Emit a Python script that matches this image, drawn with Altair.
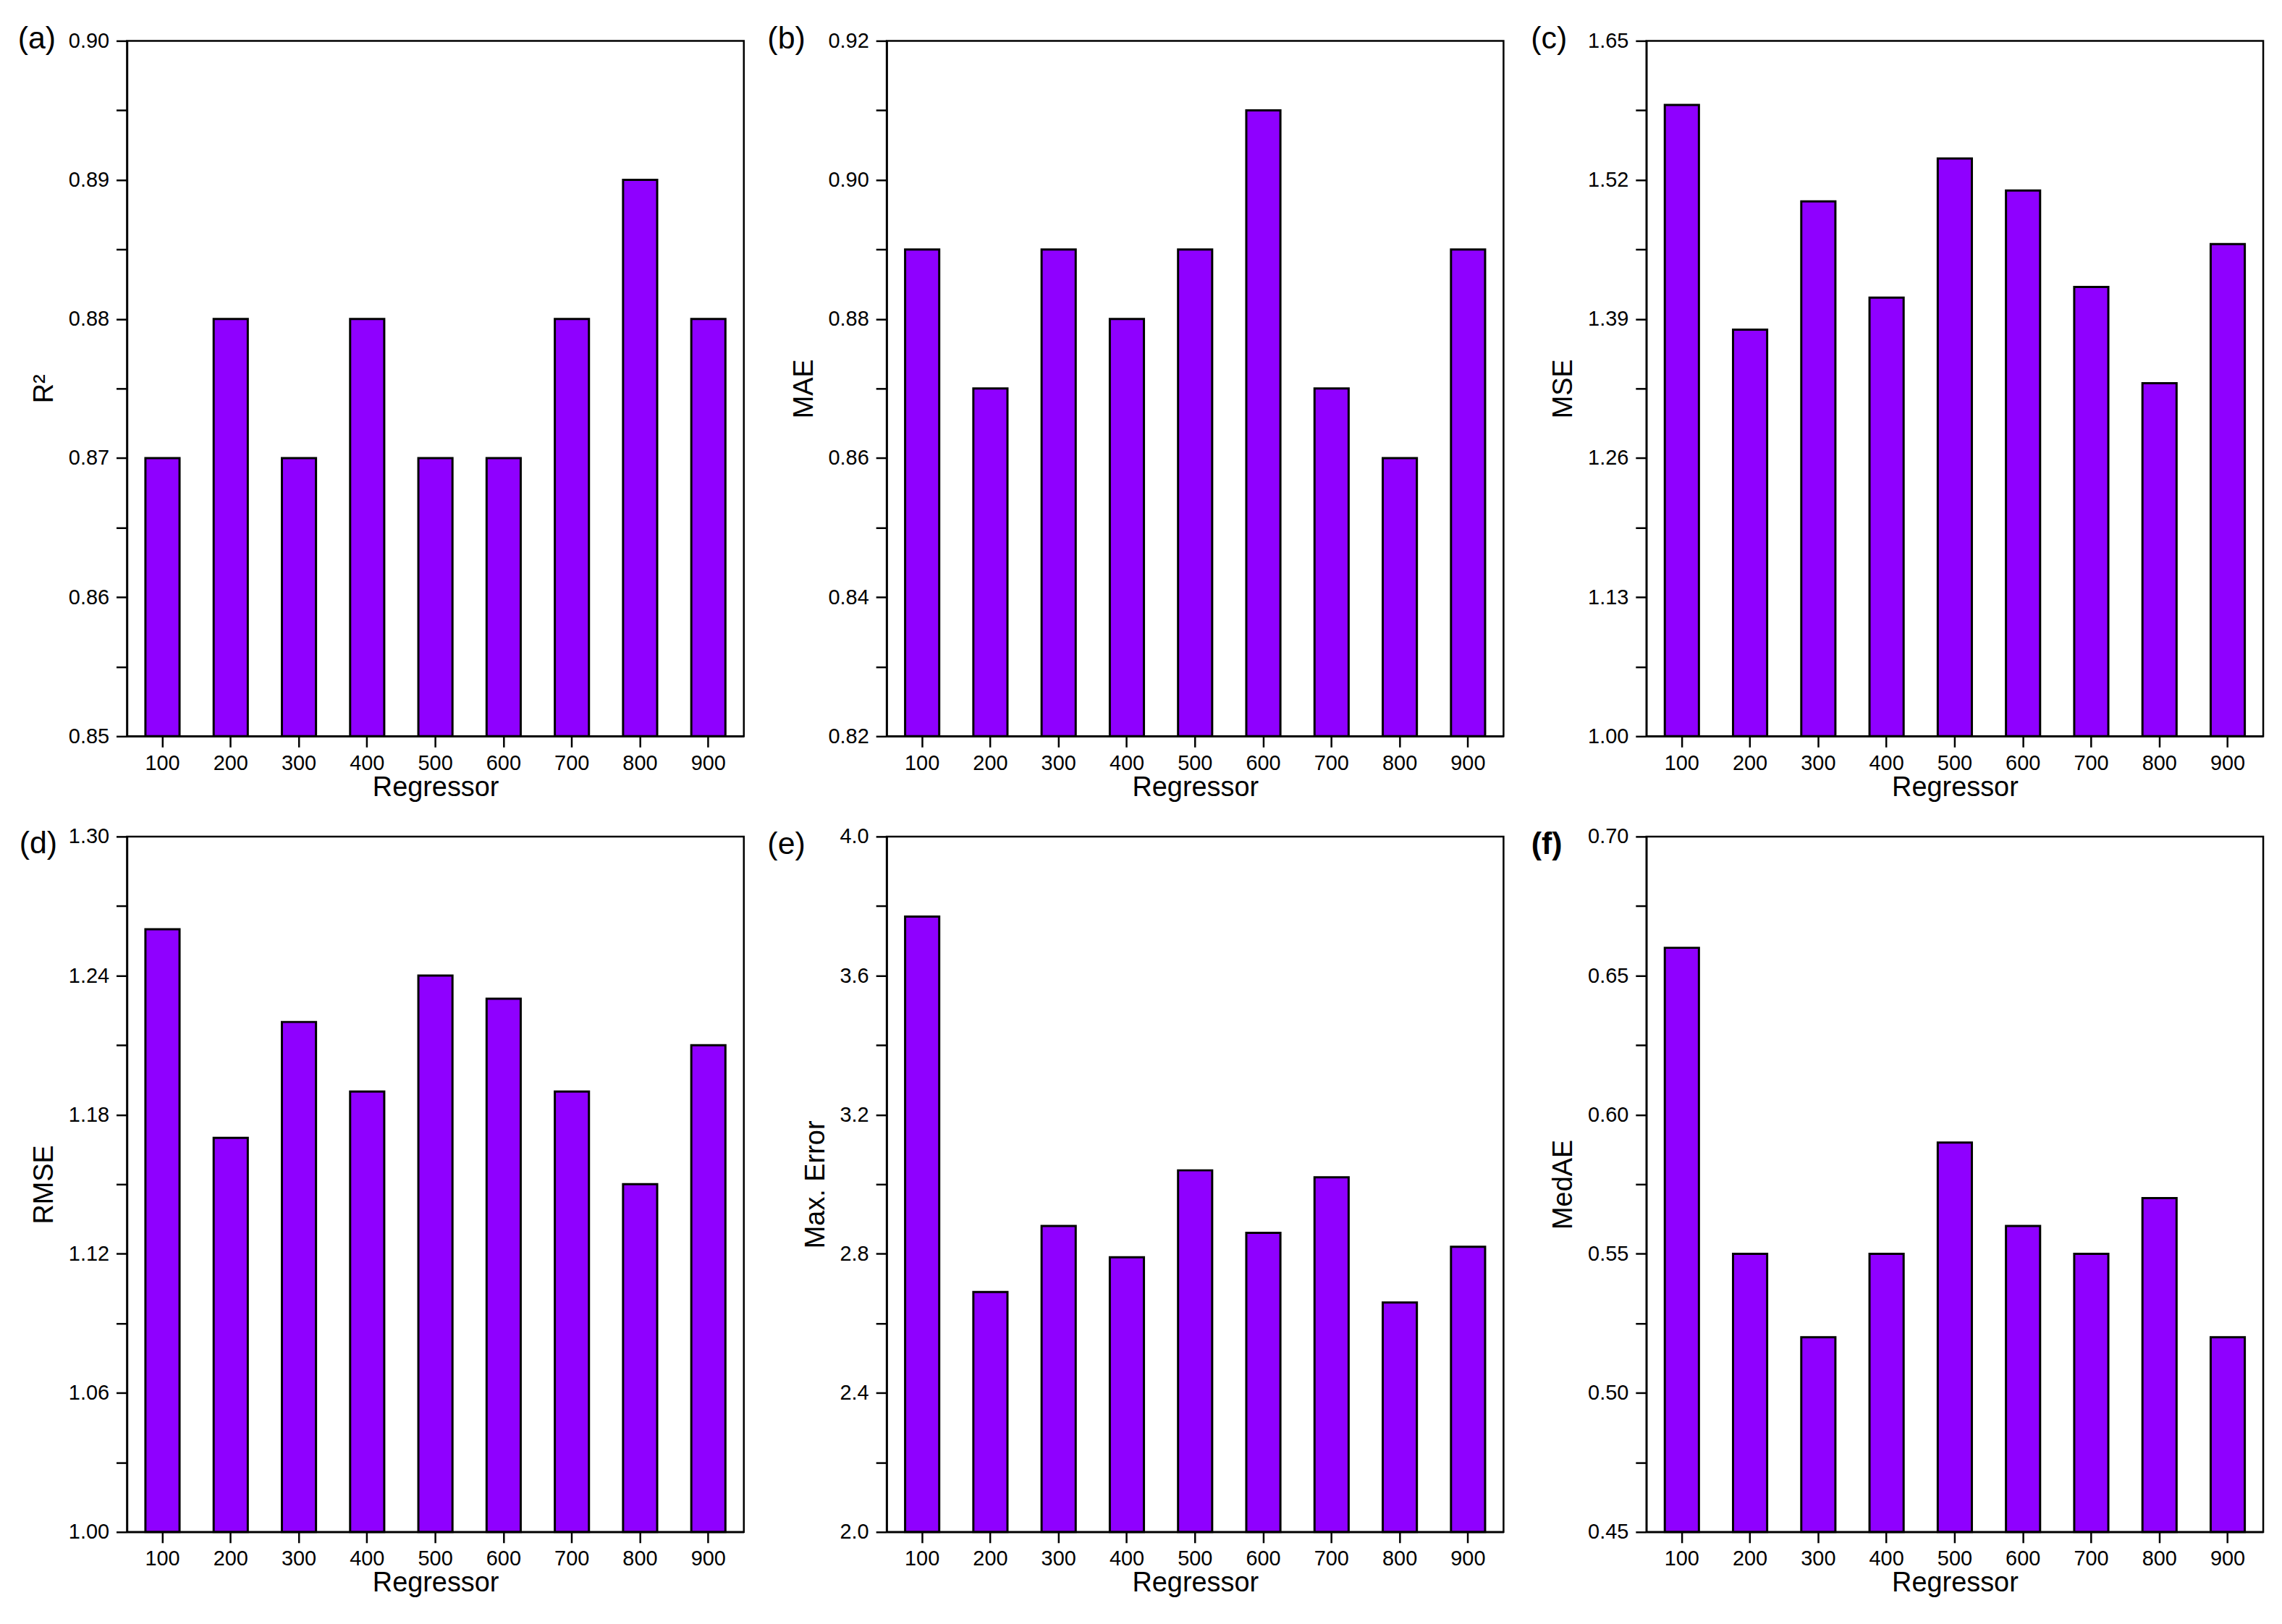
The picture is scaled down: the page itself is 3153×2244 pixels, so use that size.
import altair as alt
import pandas as pd

FONT = "Liberation Sans"
BAR_COLOR = "#8F00FF"

regressors = [100, 200, 300, 400, 500, 600, 700, 800, 900]

r2_values = [0.87, 0.88, 0.87, 0.88, 0.87, 0.87, 0.88, 0.89, 0.88]
mae_values = [0.89, 0.87, 0.89, 0.88, 0.89, 0.91, 0.87, 0.86, 0.89]
mse_values = [1.59, 1.38, 1.50, 1.41, 1.54, 1.51, 1.42, 1.33, 1.46]
rmse_values = [1.26, 1.17, 1.22, 1.19, 1.24, 1.23, 1.19, 1.15, 1.21]
maxerr_values = [3.77, 2.69, 2.88, 2.79, 3.04, 2.86, 3.02, 2.66, 2.82]
medae_values = [0.66, 0.55, 0.52, 0.55, 0.59, 0.56, 0.55, 0.57, 0.52]

r2_ticks = [0.85, 0.86, 0.87, 0.88, 0.89, 0.90]
mae_ticks = [0.82, 0.84, 0.86, 0.88, 0.90, 0.92]
mse_ticks = [1.00, 1.13, 1.26, 1.39, 1.52, 1.65]
rmse_ticks = [1.00, 1.06, 1.12, 1.18, 1.24, 1.30]
maxerr_ticks = [2.0, 2.4, 2.8, 3.2, 3.6, 4.0]
medae_ticks = [0.45, 0.50, 0.55, 0.60, 0.65, 0.70]

W, H = 855, 964


def with_minor(ticks):
    out = []
    for i, t in enumerate(ticks):
        out.append(t)
        if i < len(ticks) - 1:
            out.append(round((t + ticks[i + 1]) / 2, 6))
    return out


def panel(values, ticks, ytitle, fmt, tag, tag_pos, tag_bold=False):
    df = pd.DataFrame({"Regressor": regressors, "v": values})
    lo, hi = ticks[0], ticks[-1]
    allticks = with_minor(ticks)
    n = len(allticks) - 1
    label_expr = (
        f"round(datum.index*{n}) % 2 == 0 ? format(datum.value, '{fmt}') : ''"
    )
    bars = (
        alt.Chart(df)
        .mark_bar(color=BAR_COLOR, stroke="black", strokeWidth=3)
        .encode(
            x=alt.X(
                "Regressor:O",
                scale=alt.Scale(paddingInner=0.5, paddingOuter=0.27),
                axis=alt.Axis(
                    title="Regressor",
                    labelAngle=0,
                    labelPadding=8,
                    titlePadding=0,
                ),
            ),
            y=alt.Y(
                "v:Q",
                scale=alt.Scale(domain=[lo, hi], nice=False, zero=False),
                axis=alt.Axis(
                    title=ytitle,
                    values=allticks,
                    labelExpr=label_expr,
                    labelPadding=10,
                    titlePadding=14,
                ),
            ),
            y2=alt.datum(lo),
        )
    )
    label = (
        alt.Chart(pd.DataFrame({"t": [tag]}))
        .mark_text(
            font=FONT,
            fontSize=43,
            fontWeight="bold" if tag_bold else "normal",
            align="center",
            baseline="middle",
            color="black",
        )
        .encode(x=alt.value(tag_pos[0]), y=alt.value(tag_pos[1]), text="t:N")
    )
    return alt.layer(bars, label).properties(width=W, height=H)


charts = [
    panel(r2_values, r2_ticks, "R²", ".2f", "(a)", (-125, -2)),
    panel(mae_values, mae_ticks, "MAE", ".2f", "(b)", (-139, -2)),
    panel(mse_values, mse_ticks, "MSE", ".2f", "(c)", (-135, -2)),
    panel(rmse_values, rmse_ticks, "RMSE", ".2f", "(d)", (-123, 10)),
    panel(maxerr_values, maxerr_ticks, "Max. Error", ".1f", "(e)", (-139, 11)),
    panel(medae_values, medae_ticks, "MedAE", ".2f", "(f)", (-138, 11), tag_bold=True),
]

chart = (
    alt.concat(*charts, columns=3, spacing={"row": 139, "column": 198}, bounds="flush")
    .properties(padding={"left": 15, "top": 20, "right": 16, "bottom": 16}, background="white")
    .configure_view(stroke="black", strokeWidth=2.5)
    .configure_axis(
        grid=False,
        domainColor="black",
        domainWidth=2.5,
        tickColor="black",
        tickWidth=2.5,
        tickSize=15,
        labelFont=FONT,
        labelFontSize=29,
        labelColor="black",
        titleFont=FONT,
        titleFontSize=38,
        titleFontWeight="normal",
        titleColor="black",
    )
)

chart.save("out.html", embed_options={"renderer": "svg", "actions": False})
